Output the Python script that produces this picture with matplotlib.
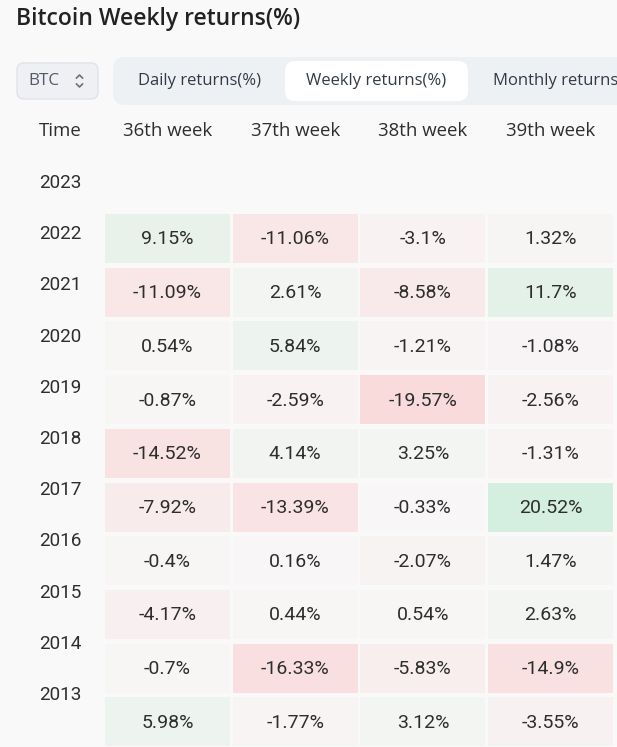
import numpy as np
import matplotlib
matplotlib.use('Agg')
import matplotlib.pyplot as plt
from matplotlib.patches import Rectangle, FancyBboxPatch
from matplotlib.colors import to_rgb

#data
title = 'Bitcoin Weekly returns(%)'
tabs = ['Daily returns(%)', 'Weekly returns(%)', 'Monthly returns(%)']
weeks = ['36th week', '37th week', '38th week', '39th week']
years = ['2023', '2022', '2021', '2020', '2019', '2018', '2017', '2016', '2015', '2014', '2013']
ret_2022 = [9.15, -11.06, -3.1, 1.32]
ret_2021 = [-11.09, 2.61, -8.58, 11.7]
ret_2020 = [0.54, 5.84, -1.21, -1.08]
ret_2019 = [-0.87, -2.59, -19.57, -2.56]
ret_2018 = [-14.52, 4.14, 3.25, -1.31]
ret_2017 = [-7.92, -13.39, -0.33, 20.52]
ret_2016 = [-0.4, 0.16, -2.07, 1.47]
ret_2015 = [-4.17, 0.44, 0.54, 2.63]
ret_2014 = [-0.7, -16.33, -5.83, -14.9]
ret_2013 = [5.98, -1.77, 3.12, -3.55]
returns = np.array([ret_2022, ret_2021, ret_2020, ret_2019, ret_2018,
                    ret_2017, ret_2016, ret_2015, ret_2014, ret_2013])

bg = '#f9f9f9'
txt = '#2e2e2e'
base = np.array(to_rgb('#f8f6f6'))
green = np.array(to_rgb('#d4eedf'))
red = np.array(to_rgb('#f9dadb'))

def cell_color(v):
    t = min(abs(v) / 20.0, 1.0)
    tgt = green if v >= 0 else red
    return tuple(base + (tgt - base) * t)

fig = plt.figure(figsize=(6.17, 7.47), dpi=100, facecolor=bg)
ax = fig.add_axes([0, 0, 1, 1])
ax.set_xlim(0, 617)
ax.set_ylim(747, 0)
ax.axis('off')
ui = ['Open Sans', 'DejaVu Sans']
num = ['Roboto', 'DejaVu Sans']

#title
ax.text(16, 19, title, fontsize=16.5, family=ui, color='#222222',
        va='center', ha='left', weight='semibold')

#selector box
ax.add_patch(FancyBboxPatch((17, 63), 81, 36, boxstyle='round,pad=0,rounding_size=7',
                            fc='#eef0f4', ec='#dfe3e8', lw=1))
ax.text(28, 81, 'BTC', fontsize=12.3, family=ui, color='#555b66', va='center', ha='left')
ax.plot([76.5, 79.5, 82.5], [78, 75, 78], color='#6b717a', lw=1.2)
ax.plot([76.5, 79.5, 82.5], [84, 87, 84], color='#6b717a', lw=1.2)

#tab bar
ax.add_patch(FancyBboxPatch((113, 57), 540, 48, boxstyle='round,pad=0,rounding_size=12',
                            fc='#eef1f4', ec='none'))
ax.add_patch(FancyBboxPatch((285, 61), 183, 40, boxstyle='round,pad=0,rounding_size=10',
                            fc='white', ec='none'))
tab_x = [199, 376, 493]
tab_ha = ['center', 'center', 'left']
for t, x, h in zip(tabs, tab_x, tab_ha):
    ax.text(x, 81, t, fontsize=12, family=ui, color='#333a44', va='center', ha=h)

#header
ax.text(60, 131, 'Time', fontsize=13.4, family=ui, color=txt, va='center', ha='center')
col_left = 105
col_pitch = 127.7
cell_w = 125
row_top = 214
row_pitch = 53.7
cell_h = 49
for j, w in enumerate(weeks):
    ax.text(col_left + j * col_pitch + cell_w / 2, 131, w, fontsize=13.4, family=ui,
            color=txt, va='center', ha='center')

#year labels
for i, y in enumerate(years):
    ax.text(60, 183 + i * 51.2, y, fontsize=13.6, family=num, color=txt,
            va='center', ha='center')

#cells
for i in range(returns.shape[0]):
    for j in range(returns.shape[1]):
        v = returns[i, j]
        x0 = col_left + j * col_pitch
        y0 = row_top + i * row_pitch
        ax.add_patch(Rectangle((x0, y0), cell_w, cell_h, fc=cell_color(v), ec='none'))
        ax.text(x0 + cell_w / 2, y0 + cell_h / 2 + 1, f'{v:g}%', fontsize=14,
                family=num, color=txt, va='center', ha='center')

fig.savefig('out.png', dpi=100, facecolor=bg)
